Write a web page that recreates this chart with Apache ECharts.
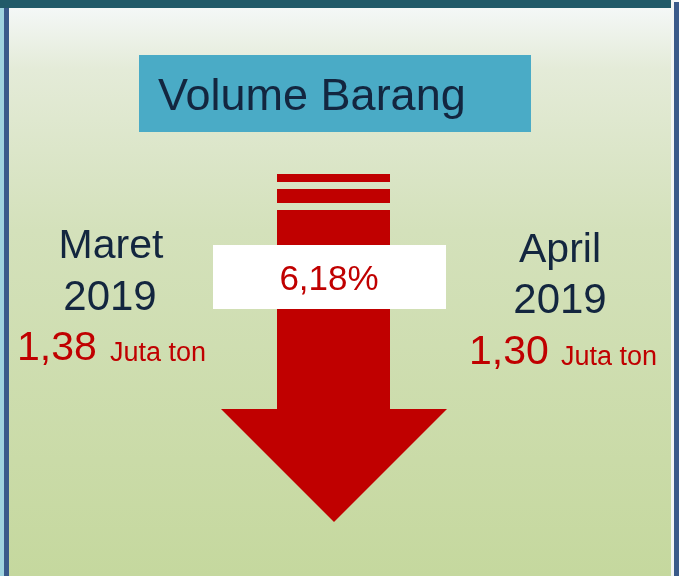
<!DOCTYPE html>
<html>
<head>
<meta charset="utf-8">
<style>
html,body{margin:0;padding:0;background:#ffffff;}
#chart{width:679px;height:576px;}
</style>
<script src="https://cdn.jsdelivr.net/npm/echarts@6/dist/echarts.min.js"></script>
</head>
<body>
<div id="chart"></div>
<script>
// Data
var title = 'Volume Barang';
var months = ['Maret', 'April'];
var years = ['2019', '2019'];
var values = ['1,38', '1,30'];
var unit = 'Juta ton';
var changeLabel = '6,18%';

var chart = echarts.init(document.getElementById('chart'), null, {renderer: 'canvas'});
var FONT = '"Liberation Sans", Arial, sans-serif';
var NAVY = '#13263f';
var RED = '#c00000';
var dy = 3;

var elements = [
  // background gradient
  {type: 'rect', shape: {x: 0, y: 0, width: 679, height: 576},
   style: {fill: new echarts.graphic.LinearGradient(0, 0, 0, 1, [
     {offset: 0, color: '#f6f9fb'},
     {offset: 0.12, color: '#e4ebd8'},
     {offset: 0.4, color: '#d4e1bb'},
     {offset: 1, color: '#c5d89e'}
   ])}},
  // left strips
  {type: 'rect', shape: {x: 0, y: 0, width: 4, height: 576}, style: {fill: '#9fd3df'}},
  {type: 'rect', shape: {x: 4, y: 0, width: 5, height: 576}, style: {fill: '#3a5a8a'}},
  // right border
  {type: 'rect', shape: {x: 671, y: 0, width: 3, height: 576}, style: {fill: '#f2f5f4'}},
  {type: 'rect', shape: {x: 674, y: 2, width: 5, height: 574}, style: {fill: '#3a5a8a'}},
  // top bar
  {type: 'rect', shape: {x: 0, y: 0, width: 671, height: 8}, style: {fill: '#215a69'}},
  // title box
  {type: 'rect', shape: {x: 139, y: 55, width: 392, height: 77}, style: {fill: '#4aabc6'}},
  {type: 'text', x: 158, y: 95 + dy, style: {text: title, font: '45px ' + FONT, fill: NAVY, textAlign: 'left', textVerticalAlign: 'middle'}},
  // arrow stripes
  {type: 'rect', shape: {x: 277, y: 174, width: 113, height: 8}, style: {fill: RED}},
  {type: 'rect', shape: {x: 277, y: 189, width: 113, height: 14}, style: {fill: RED}},
  // arrow body + head
  {type: 'polygon', shape: {points: [[277, 210], [390, 210], [390, 409], [447, 409], [334, 522], [221, 409], [277, 409]]}, style: {fill: RED}},
  // label box
  {type: 'rect', shape: {x: 213, y: 245, width: 233, height: 64}, style: {fill: '#ffffff'}},
  {type: 'text', x: 329, y: 278 + 2, style: {text: changeLabel, font: '35px ' + FONT, fill: RED, textAlign: 'center', textVerticalAlign: 'middle'}},
  // left texts
  {type: 'text', x: 111, y: 244 + dy, style: {text: months[0], font: '41px ' + FONT, fill: NAVY, textAlign: 'center', textVerticalAlign: 'middle'}},
  {type: 'text', x: 110, y: 295 + dy, style: {text: years[0], font: '42px ' + FONT, fill: NAVY, textAlign: 'center', textVerticalAlign: 'middle'}},
  {type: 'text', x: 17, y: 346 + dy, style: {text: values[0], font: '41px ' + FONT, fill: RED, textAlign: 'left', textVerticalAlign: 'middle'}},
  {type: 'text', x: 110, y: 351 + dy, style: {text: unit, font: '27px ' + FONT, fill: RED, textAlign: 'left', textVerticalAlign: 'middle'}},
  // right texts
  {type: 'text', x: 560, y: 248 + dy, style: {text: months[1], font: '41px ' + FONT, fill: NAVY, textAlign: 'center', textVerticalAlign: 'middle'}},
  {type: 'text', x: 560, y: 298 + dy, style: {text: years[1], font: '42px ' + FONT, fill: NAVY, textAlign: 'center', textVerticalAlign: 'middle'}},
  {type: 'text', x: 469, y: 350 + dy, style: {text: values[1], font: '41px ' + FONT, fill: RED, textAlign: 'left', textVerticalAlign: 'middle'}},
  {type: 'text', x: 561, y: 355 + dy, style: {text: unit, font: '27px ' + FONT, fill: RED, textAlign: 'left', textVerticalAlign: 'middle'}}
];

chart.setOption({
  animation: false,
  graphic: {elements: elements}
});
</script>
</body>
</html>
